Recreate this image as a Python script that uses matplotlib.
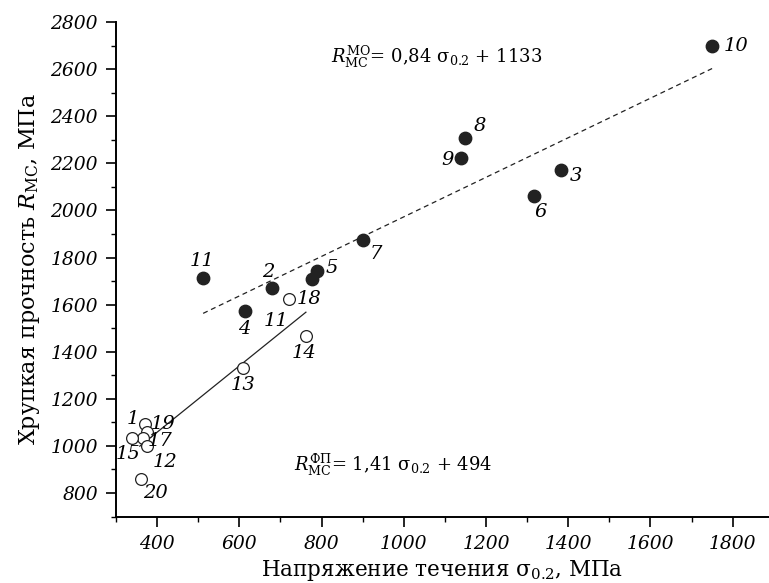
import matplotlib
matplotlib.use("Agg")
import matplotlib.pyplot as plt

plt.rcParams['font.family'] = ['DejaVu Serif']
plt.rcParams['mathtext.fontset'] = 'dejavuserif'

# Filled points (МО)
mo_labels = ['10', '8', '9', '3', '6', '7', '5', '', '2', '11', '4']
mo_x = [1750, 1150, 1140, 1382, 1317, 900, 790, 776, 680, 512, 613]
mo_y = [2700, 2310, 2225, 2172, 2062, 1875, 1745, 1710, 1670, 1715, 1575]

# Open points (ФП)
fp_labels = ['18', '14', '13', '19', '', '17', '15', '12', '20']
fp_x = [721, 762, 609, 371, 375, 366, 339, 376, 361]
fp_y = [1625, 1465, 1332, 1095, 1060, 1035, 1035, 1000, 860]

# Fit lines (endpoints)
mo_line_x = [512, 1750]
mo_line_y = [1563, 2603]
fp_line_x = [358, 762]
fp_line_y = [999, 1568]

x_ticks = [400, 600, 800, 1000, 1200, 1400, 1600, 1800]
y_ticks = [800, 1000, 1200, 1400, 1600, 1800, 2000, 2200, 2400, 2600, 2800]

# label offsets in pixels (style)
mo_off = {'10': (12, 0, 'left', 'center'), '8': (8, 3, 'left', 'bottom'),
          '9': (-8, -2, 'right', 'center'), '3': (9, -6, 'left', 'center'),
          '6': (0, -7, 'left', 'top'), '7': (7, -5, 'left', 'top'),
          '5': (8, 3, 'left', 'center'), '2': (-4, 7, 'center', 'bottom'),
          '11': (-1, 8, 'center', 'bottom'), '4': (0, -9, 'center', 'top')}
fp_off = {'18': (8, 0, 'left', 'center'), '14': (-2, -8, 'center', 'top'),
          '13': (0, -8, 'center', 'top'), '19': (5, 0, 'left', 'center'),
          '17': (5, -3, 'left', 'center'), '15': (-4, -7, 'center', 'top'),
          '12': (5, -7, 'left', 'top'), '20': (2, -5, 'left', 'top')}

fs_num = 14

fig = plt.figure(figsize=(7.69, 5.83), dpi=100)
ax = fig.add_axes([0.1508, 0.114, 0.849, 0.848])

ax.plot(mo_line_x, mo_line_y, color='#222222', lw=0.9, ls=(0, (4, 3)))
ax.plot(fp_line_x, fp_line_y, color='#222222', lw=0.9)

ax.scatter(fp_x, fp_y, s=72, facecolor='white', edgecolor='#222222', lw=0.9, zorder=3)
ax.scatter(mo_x, mo_y, s=80, facecolor='#222222', edgecolor='#222222', zorder=4)

for lab, x, y in zip(mo_labels, mo_x, mo_y):
    if lab:
        dx, dy, ha, va = mo_off[lab]
        ax.annotate(lab, (x, y), xytext=(dx, dy), textcoords='offset pixels',
                    ha=ha, va=va, fontsize=fs_num, style='italic')
for lab, x, y in zip(fp_labels, fp_x, fp_y):
    if lab:
        dx, dy, ha, va = fp_off[lab]
        ax.annotate(lab, (x, y), xytext=(dx, dy), textcoords='offset pixels',
                    ha=ha, va=va, fontsize=fs_num, style='italic')
# extra labels: '1' and second '11' (open), placed by pixel offsets
ax.annotate('1', (fp_x[3], fp_y[3]), xytext=(-12, 5), textcoords='offset pixels',
            ha='center', va='center', fontsize=fs_num, style='italic')
ax.annotate('11', (fp_x[0], fp_y[0]), xytext=(-13, -13), textcoords='offset pixels',
            ha='center', va='top', fontsize=fs_num, style='italic')

ax.text(0.33, 0.93, r'$R^{\mathrm{МО}}_{\mathrm{МС}}$= 0,84 σ$_{0.2}$ + 1133',
        transform=ax.transAxes, fontsize=13, ha='left', va='center')
ax.text(0.272, 0.105, r'$R^{\mathrm{ФП}}_{\mathrm{МС}}$= 1,41 σ$_{0.2}$ + 494',
        transform=ax.transAxes, fontsize=13, ha='left', va='center')

ax.set_xlim(300, 1888)
ax.set_ylim(700, 2800)
ax.set_xticks(x_ticks)
ax.set_yticks(y_ticks)
ax.set_xticks(range(300, 1900, 100), minor=True)
ax.set_yticks(range(700, 2801, 100), minor=True)
ax.tick_params(which='major', direction='out', length=7, width=1.2, labelsize=13.5, pad=6)
ax.tick_params(which='minor', direction='out', length=3.8, width=1.0)
for t in ax.get_xticklabels() + ax.get_yticklabels():
    t.set_style('italic')
for s in ['top', 'right']:
    ax.spines[s].set_visible(False)
for s in ['left', 'bottom']:
    ax.spines[s].set_linewidth(1.4)

ax.set_xlabel(r'Напряжение течения σ$_{0.2}$, МПа', fontsize=15.5, labelpad=4)
ax.set_ylabel(r'Хрупкая прочность $R_{\mathrm{МС}}$, МПа', fontsize=16, labelpad=6)

fig.savefig('out.png', dpi=100)
